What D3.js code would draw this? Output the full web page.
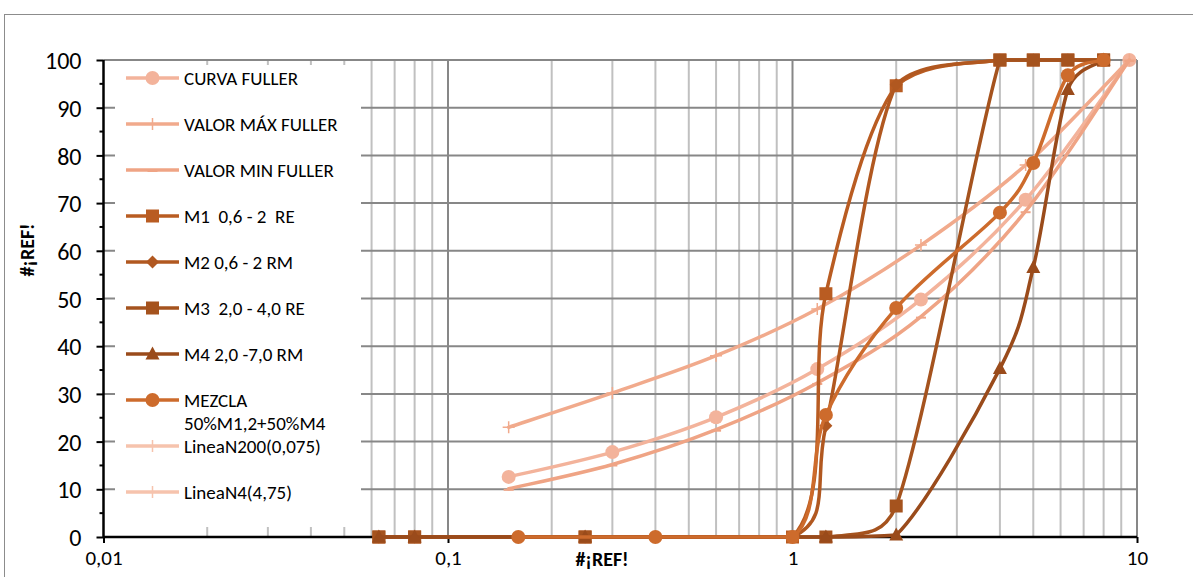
<!DOCTYPE html>
<html><head><meta charset="utf-8">
<script src="https://cdn.jsdelivr.net/npm/d3@7"></script>
<style>
html,body{margin:0;padding:0;background:#fff;}
text{font-family:Carlito, Lato, "Liberation Sans", sans-serif;fill:#000;}
</style></head>
<body><svg id="c" width="1193" height="577"></svg>
<script>
// ---- data ----
const sievesFuller = [0.15, 0.3, 0.6, 1.18, 2.36, 4.75, 9.5];
const curvaFuller = [12.6, 17.8, 25.1, 35.2, 49.8, 70.7, 100];
const valorMaxFuller = [23.0, 30.2, 38.0, 47.8, 61.2, 78.0, 100];
const valorMinFuller = [10.1, 15.2, 22.5, 32.3, 46.2, 68.3, 100];
const sievesM = [0.063, 0.08, 0.25, 1, 1.25, 2, 4, 5, 6.3, 8];
const m1 = [0, 0, 0, 0, 51.0, 94.6, 100, 100, 100, 100];
const m2 = [0, 0, 0, 0, 23.3, 94.8, 100, 100, 100, 100];
const sievesM34 = [0.063, 0.08, 0.25, 1.25, 2, 4, 5, 6.3, 8];
const m3 = [0, 0, 0, 0, 6.5, 100, 100, 100, 100];
const m4 = [0, 0, 0, 0, 0.4, 35.3, 56.5, 93.8, 100];
const sievesMezcla = [0.16, 0.4, 1, 1.25, 2, 4, 5, 6.3, 8];
const mezcla = [0, 0, 0, 25.6, 48.0, 68.0, 78.4, 96.8, 100];
const lineaN200 = [];
const lineaN4 = [];
const seriesNames = ["CURVA FULLER", "VALOR MÁX FULLER", "VALOR MIN FULLER", "M1  0,6 - 2  RE", "M2 0,6 - 2 RM", "M3  2,0 - 4,0 RE", "M4 2,0 -7,0 RM", "MEZCLA|50%M1,2+50%M4", "LineaN200(0,075)", "LineaN4(4,75)"];
const xTickValues = [0.01, 0.1, 1, 10];
const xTickLabels = ["0,01", "0,1", "1", "10"];
const yTickValues = [0, 10, 20, 30, 40, 50, 60, 70, 80, 90, 100];
const axisTitle = "#¡REF!";

// ---- build ----
const svg = d3.select("#c");
const x = d3.scaleLog().domain([0.01, 10]).range([103.5, 1137]);
const y = d3.scaleLinear().domain([0, 100]).range([537, 60]);

const zip = (xs, ys) => xs.map((v, i) => [v, ys[i]]);
const series = [
  {name: seriesNames[0], data: zip(sievesFuller, curvaFuller), color: "#f3b39b", marker: "circle"},
  {name: seriesNames[1], data: zip(sievesFuller, valorMaxFuller), color: "#f1aa8c", marker: "plus"},
  {name: seriesNames[2], data: zip(sievesFuller, valorMinFuller), color: "#efa485", marker: "dash"},
  {name: seriesNames[3], data: zip(sievesM, m1), color: "#b95c22", marker: "square"},
  {name: seriesNames[4], data: zip(sievesM, m2), color: "#b15820", marker: "diamond"},
  {name: seriesNames[5], data: zip(sievesM34, m3), color: "#a5531e", marker: "square"},
  {name: seriesNames[6], data: zip(sievesM34, m4), color: "#9a4b1b", marker: "triangle"},
  {name: seriesNames[7], data: zip(sievesMezcla, mezcla), color: "#cd6b2c", marker: "circle"},
  {name: seriesNames[8], data: zip([], lineaN200), color: "#f6c3ad", marker: "plus"},
  {name: seriesNames[9], data: zip([], lineaN4), color: "#f6c3ad", marker: "plus"}
];

// outer frame
svg.append("rect").attr("x", 4.5).attr("y", 14.5).attr("width", 1200).attr("height", 600)
  .attr("fill", "none").attr("stroke", "#8c8c8c").attr("stroke-width", 1);

// grid
const g = svg.append("g");
const minorX = [];
[0.01, 0.1, 1].forEach(dec => { for (let k = 2; k <= 9; k++) minorX.push(dec * k); });
g.selectAll(".minx").data(minorX).enter().append("line")
  .attr("x1", d => x(d)).attr("x2", d => x(d)).attr("y1", y(0)).attr("y2", y(100))
  .attr("stroke", "#c0c0c0").attr("stroke-width", 2);
g.selectAll(".majx").data(xTickValues.slice(1)).enter().append("line")
  .attr("x1", d => x(d)).attr("x2", d => x(d)).attr("y1", y(0)).attr("y2", y(100))
  .attr("stroke", "#878787").attr("stroke-width", 2);
g.selectAll(".majy").data(yTickValues.slice(1)).enter().append("line")
  .attr("x1", x(0.01)).attr("x2", x(10)).attr("y1", d => y(d)).attr("y2", d => y(d))
  .attr("stroke", "#878787").attr("stroke-width", 2);

// axes
const yAxis = d3.axisLeft(y).tickValues(yTickValues).tickSize(7).tickFormat(d3.format("d"));
const ya = svg.append("g").attr("transform", `translate(${x(0.01)},0)`).call(yAxis);
ya.select(".domain").attr("stroke", "#000").attr("stroke-width", 2.5).attr("d", `M0,${y(0)}V${y(100)}`);
ya.selectAll(".tick line").attr("stroke", "#000").attr("stroke-width", 2);
ya.selectAll(".tick text").attr("x", -22).attr("dy", "0.36em").style("font-size", "24px").style("font-family", "Carlito, Lato, sans-serif");
// minor y ticks
svg.append("g").selectAll("line").data(d3.range(5, 100, 10)).enter().append("line")
  .attr("x1", x(0.01) - 4).attr("x2", x(0.01)).attr("y1", d => y(d)).attr("y2", d => y(d))
  .attr("stroke", "#000").attr("stroke-width", 2);

const xAxis = d3.axisBottom(x).tickValues(xTickValues).tickSize(6).tickFormat((d, i) => xTickLabels[i]);
const xa = svg.append("g").attr("transform", `translate(0,${y(0)})`).call(xAxis);
xa.select(".domain").attr("stroke", "#000").attr("stroke-width", 2.5).attr("d", `M${x(0.01)},0H${x(10)}`);
xa.selectAll(".tick line").attr("stroke", "#000").attr("stroke-width", 2);
xa.selectAll(".tick text").attr("y", 13).attr("dy", "0.71em").style("font-size", "21px").style("font-family", "Carlito, Lato, sans-serif");

// axis titles
svg.append("text").attr("x", 602).attr("y", 559).attr("text-anchor", "middle").attr("dominant-baseline", "central")
  .style("font-size", "20px").style("font-weight", "bold").text(axisTitle);
svg.append("text").attr("transform", "translate(27,250) rotate(-90)").attr("text-anchor", "middle").attr("dominant-baseline", "central")
  .style("font-size", "20px").style("font-weight", "bold").text(axisTitle);

// markers
function drawMarker(sel, type, color, cx, cy) {
  if (type === "circle") sel.append("circle").attr("cx", cx).attr("cy", cy).attr("r", 7).attr("fill", color);
  else if (type === "square") sel.append("rect").attr("x", cx - 6.5).attr("y", cy - 6.5).attr("width", 13).attr("height", 13).attr("fill", color);
  else if (type === "diamond") sel.append("path").attr("d", `M${cx},${cy - 6.5}L${cx + 6.5},${cy}L${cx},${cy + 6.5}L${cx - 6.5},${cy}Z`).attr("fill", color);
  else if (type === "triangle") sel.append("path").attr("d", `M${cx},${cy - 7.5}L${cx + 7},${cy + 5.5}L${cx - 7},${cy + 5.5}Z`).attr("fill", color);
  else if (type === "plus") sel.append("path").attr("d", `M${cx - 6},${cy}H${cx + 6}M${cx},${cy - 6}V${cy + 6}`).attr("stroke", color).attr("stroke-width", 1.5).attr("fill", "none");
  else if (type === "dash") sel.append("path").attr("d", `M${cx - 5},${cy + 1}H${cx + 5}`).attr("stroke", color).attr("stroke-width", 2).attr("fill", "none");
}

// Excel-like smoothed line: Bezier with 1/6 tangents, arm capped at half the segment, no vertical overshoot
function smoothPath(data) {
  const pts = data.filter(d => d[1] != null).map(d => [x(d[0]), y(d[1])]);
  const p = d3.path();
  const n = pts.length;
  if (!n) return "";
  const dist = (a, b) => Math.hypot(a[0] - b[0], a[1] - b[1]);
  p.moveTo(pts[0][0], pts[0][1]);
  for (let i = 0; i < n - 1; i++) {
    const P0 = pts[Math.max(i - 1, 0)], P1 = pts[i], P2 = pts[i + 1], P3 = pts[Math.min(i + 2, n - 1)];
    const d12 = dist(P1, P2), d02 = dist(P0, P2), d13 = dist(P1, P3);
    let f1 = 1 / 6, f2 = 1 / 6;
    if (d02 * f1 > d12 / 2) f1 = d12 / (2 * d02);
    if (d13 * f2 > d12 / 2) f2 = d12 / (2 * d13);
    const lo = Math.min(P1[1], P2[1]), hi = Math.max(P1[1], P2[1]);
    const cl = v => Math.max(lo, Math.min(hi, v));
    const c1 = [P1[0] + f1 * (P2[0] - P0[0]), cl(P1[1] + f1 * (P2[1] - P0[1]))];
    const c2 = [P2[0] - f2 * (P3[0] - P1[0]), cl(P2[1] - f2 * (P3[1] - P1[1]))];
    p.bezierCurveTo(c1[0], c1[1], c2[0], c2[1], P2[0], P2[1]);
  }
  return p.toString();
}

const plot = svg.append("g");
series.forEach(s => {
  if (!s.data.length) return;
  const sg = plot.append("g");
  sg.append("path").attr("d", smoothPath(s.data)).attr("fill", "none").attr("stroke", s.color)
    .attr("stroke-width", 3.5).attr("stroke-linejoin", "round").attr("stroke-linecap", "round");
  s.data.filter(d => d[1] != null).forEach(d => drawMarker(sg, s.marker, s.color, x(d[0]), y(d[1])));
});

// legend
const lg = svg.append("g");
lg.append("rect").attr("x", 115).attr("y", 65).attr("width", 246).attr("height", 462).attr("fill", "#fff");
const legendY = [78, 124, 170, 216, 262, 308, 354, 400, 446, 492];
series.forEach((s, i) => {
  const ly = legendY[i];
  lg.append("line").attr("x1", 126).attr("x2", 179).attr("y1", ly).attr("y2", ly)
    .attr("stroke", s.color).attr("stroke-width", 3.5);
  drawMarker(lg, s.marker, s.color, 152.5, ly);
  const parts = s.name.split("|");
  parts.forEach((p, j) => {
    lg.append("text").attr("x", 184).attr("y", ly + j * 23).attr("dominant-baseline", "central")
      .style("font-size", "19px").style("white-space", "pre").text(p);
  });
});
</script></body></html>
